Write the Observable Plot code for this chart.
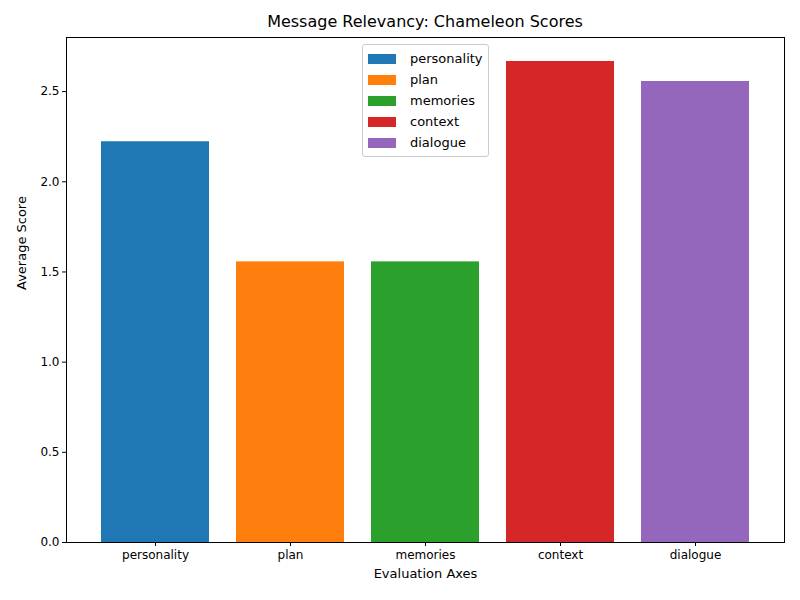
<!DOCTYPE html>
<html>
<head>
<meta charset="utf-8">
<script src="https://cdn.jsdelivr.net/npm/d3@7"></script>
<script src="https://cdn.jsdelivr.net/npm/@observablehq/plot@0.6"></script>
<style>
  body { margin: 0; background: #fff; font-family: "DejaVu Sans", sans-serif; }
  #wrap { position: relative; width: 800px; height: 600px; }
  #title { position: absolute; top: 12px; left: 66px; width: 718px; text-align: center; font-size: 16px; }
  #legend { position: absolute; left: 362px; top: 44px; width: 125px; border: 1px solid #ccc; border-radius: 3px; background: rgba(255,255,255,0.8); padding: 3px 0; font-size: 13px; }
  .item { display: flex; align-items: center; height: 21px; padding-left: 5px; }
  .sw { width: 28px; height: 10px; margin-right: 14px; }
</style>
</head>
<body>
<div id="wrap">
  <div id="plot"></div>
  <div id="title">Message Relevancy: Chameleon Scores</div>
  <div id="legend"></div>
</div>
<script>
const axes = ["personality", "plan", "memories", "context", "dialogue"];
const scores = [2.222, 1.556, 1.556, 2.667, 2.556];
const colors = ["#1f77b4", "#ff7f0e", "#2ca02c", "#d62728", "#9467bd"];
const yTicks = [0, 0.5, 1.0, 1.5, 2.0, 2.5];

const data = axes.map((a, i) => ({axis: a, score: scores[i]}));

const plot = Plot.plot({
  width: 800,
  height: 600,
  marginLeft: 66,
  marginRight: 16,
  marginTop: 37,
  marginBottom: 58,
  style: {fontFamily: "DejaVu Sans, sans-serif", fontSize: "12px", color: "#000"},
  x: {domain: axes, paddingInner: 0.2, paddingOuter: 0.24, label: null, tickSize: 4},
  y: {domain: [0, 2.8], ticks: yTicks, tickFormat: d3.format(".1f"), label: null, tickSize: 4},
  color: {domain: axes, range: colors},
  marks: [
    Plot.barY(data, {x: "axis", y: "score", fill: "axis"}),
    Plot.frame({stroke: "#000"}),
    Plot.axisX({tickSize: 4, tickPadding: 4, fontSize: 12}),
    Plot.axisY({ticks: yTicks, tickFormat: d3.format(".1f"), tickSize: 4, tickPadding: 3, fontSize: 12}),
    Plot.text(["Evaluation Axes"], {frameAnchor: "bottom", dy: 35, fontSize: 13}),
    Plot.text(["Average Score"], {frameAnchor: "left", dx: -45, rotate: -90, fontSize: 13})
  ]
});
document.getElementById("plot").appendChild(plot);

const legend = document.getElementById("legend");
axes.forEach((a, i) => {
  const row = document.createElement("div");
  row.className = "item";
  row.innerHTML = `<span class="sw" style="background:${colors[i]}"></span>${a}`;
  legend.appendChild(row);
});
</script>
</body>
</html>
